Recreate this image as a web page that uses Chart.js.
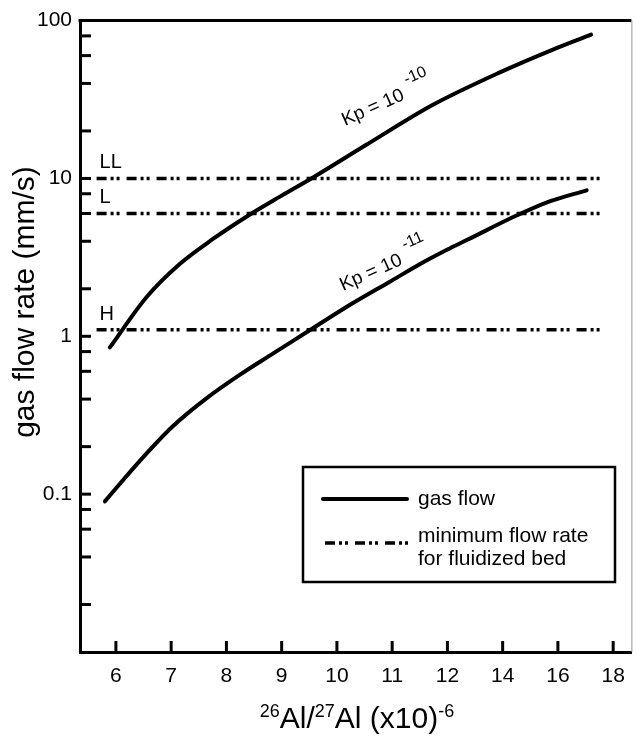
<!DOCTYPE html>
<html>
<head>
<meta charset="utf-8">
<script src="https://cdn.jsdelivr.net/npm/chart.js@4.4.1/dist/chart.umd.min.js"></script>
<style>
  html,body{margin:0;padding:0;background:#fff;}
  #wrap{width:637px;height:741px;}
</style>
</head>
<body>
<div id="wrap"><canvas id="c" width="637" height="741"></canvas></div>
<script>
// ---------- data ----------
const xTickValues = [6, 7, 8, 9, 10, 11, 12, 14, 16, 18];
const yTickValues = [0.01, 0.1, 1, 10, 100];
const yTickLabels = ['', '0.1', '1', '10', '100'];
const yMinorTicks = [0.02, 0.04, 0.06, 0.08, 0.2, 0.4, 0.6, 0.8, 2, 4, 6, 8, 20, 40, 60, 80];

// gas flow, Kp = 10^-10
const kp10X = [5.89, 6.56, 7.16, 7.75, 8.42, 8.97, 9.56, 10.54, 11.73, 13.9, 15.8, 17.2];
const kp10Y = [0.85, 1.78, 2.88, 4.12, 5.89, 7.67, 10.1, 16.4, 29.2, 47, 65.3, 81.5];
// gas flow, Kp = 10^-11
const kp11X = [5.80, 6.43, 7.03, 7.65, 8.24, 8.84, 9.45, 10.1, 10.95, 11.62, 12.0, 12.7, 14.5, 15.7, 17.04];
const kp11Y = [0.090, 0.162, 0.269, 0.407, 0.569, 0.776, 1.06, 1.48, 2.21, 3.02, 3.55, 4.07, 5.82, 7.16, 8.41];

// minimum flow rate for fluidized bed
const minFlowNames = ['LL', 'L', 'H'];
const minFlowValues = [10, 6, 1.1];
const minFlowExtentX = [5.65, 17.7];

const curveLabels = ['Kp = 10', 'Kp = 10'];
const curveExps = ['-10', '-11'];

// ---------- x-axis mapping (1 unit per step up to 12, then 2 units per step) ----------
function toU(x) { return x <= 12 ? x : 12 + (x - 12) / 2; }

const FONT = "'Liberation Sans', Arial, sans-serif";
const dash = [10, 4, 3, 3, 3, 7];

function pts(xs, ys) { return xs.map((x, i) => ({ x: toU(x), y: ys[i] })); }

const datasets = [
  { data: pts(kp10X, kp10Y), borderColor: '#000', borderWidth: 4, pointRadius: 0, cubicInterpolationMode: 'monotone', fill: false, borderCapStyle: 'round' },
  { data: pts(kp11X, kp11Y), borderColor: '#000', borderWidth: 4, pointRadius: 0, cubicInterpolationMode: 'monotone', fill: false, borderCapStyle: 'round' }
];
minFlowValues.forEach(v => {
  datasets.push({ data: pts(minFlowExtentX, [v, v]), borderColor: '#000', borderWidth: 3.5, pointRadius: 0, borderDash: dash, fill: false });
});

const decor = {
  id: 'decor',
  afterDraw(chart) {
    const ctx = chart.ctx, xs = chart.scales.x, ys = chart.scales.y, a = chart.chartArea;
    ctx.save();
    ctx.strokeStyle = '#000'; ctx.fillStyle = '#000';
    // top border and thin right border
    ctx.lineWidth = 3;
    ctx.beginPath(); ctx.moveTo(a.left - 1.5, a.top); ctx.lineTo(a.right, a.top); ctx.stroke();
    ctx.lineWidth = 1; ctx.strokeStyle = '#999';
    ctx.beginPath(); ctx.moveTo(a.right + 0.5, a.top); ctx.lineTo(a.right + 0.5, a.bottom); ctx.stroke();
    ctx.strokeStyle = '#000';
    // inward ticks
    ctx.lineWidth = 3;
    yTickValues.concat(yMinorTicks).forEach(v => {
      const y = ys.getPixelForValue(v);
      if (y <= a.top + 1 || y >= a.bottom - 1) return;
      ctx.beginPath(); ctx.moveTo(a.left, y); ctx.lineTo(a.left + 11, y); ctx.stroke();
    });
    xTickValues.forEach(v => {
      const x = xs.getPixelForValue(toU(v));
      ctx.beginPath(); ctx.moveTo(x, a.bottom); ctx.lineTo(x, a.bottom - 11); ctx.stroke();
    });
    // min-flow labels
    ctx.font = '20px ' + FONT; ctx.textAlign = 'left'; ctx.textBaseline = 'alphabetic';
    const x0 = xs.getPixelForValue(toU(minFlowExtentX[0]));
    minFlowNames.forEach((n, i) => {
      const y = ys.getPixelForValue(minFlowValues[i]);
      ctx.fillText(n, x0 + 3, y - 10);
    });
    // curve labels (rotated)
    const lab = [[345, 126], [343, 291]];
    lab.forEach((p, i) => {
      ctx.save();
      ctx.translate(p[0], p[1]);
      ctx.rotate(-24 * Math.PI / 180);
      ctx.font = '19px ' + FONT;
      ctx.fillText(curveLabels[i], 0, 0);
      const w = ctx.measureText(curveLabels[i]).width;
      ctx.font = '16px ' + FONT;
      ctx.fillText(curveExps[i], w + 7, -13);
      ctx.restore();
    });
    // legend box
    ctx.lineWidth = 2.5;
    ctx.strokeRect(303, 467, 312, 115);
    ctx.lineWidth = 4; ctx.lineCap = 'round';
    ctx.beginPath(); ctx.moveTo(323, 499); ctx.lineTo(407, 499); ctx.stroke();
    ctx.lineCap = 'butt'; ctx.lineWidth = 3.5; ctx.setLineDash(dash);
    ctx.beginPath(); ctx.moveTo(325, 543); ctx.lineTo(411, 543); ctx.stroke();
    ctx.setLineDash([]);
    ctx.font = '21px ' + FONT; ctx.textBaseline = 'middle';
    ctx.fillText('gas flow', 418, 499);
    ctx.fillText('minimum flow rate', 418, 536);
    ctx.fillText('for fluidized bed', 418, 559);
    // y title
    ctx.save();
    ctx.translate(26, 302); ctx.rotate(-Math.PI / 2);
    ctx.font = '30px ' + FONT; ctx.textAlign = 'center'; ctx.textBaseline = 'middle';
    ctx.fillText('gas flow rate (mm/s)', 0, 0);
    ctx.restore();
    // x title with superscripts
    const parts = [['26', true], ['Al/', false], ['27', true], ['Al (x10)', false], ['-6', true]];
    const big = '30px ' + FONT, small = '18px ' + FONT;
    let total = 0;
    parts.forEach(p => { ctx.font = p[1] ? small : big; total += ctx.measureText(p[0]).width; });
    let cx = 357 - total / 2; const base = 728;
    ctx.textAlign = 'left'; ctx.textBaseline = 'alphabetic';
    parts.forEach(p => {
      ctx.font = p[1] ? small : big;
      ctx.fillText(p[0], cx, p[1] ? base - 11 : base);
      cx += ctx.measureText(p[0]).width;
    });
    ctx.restore();
  }
};

new Chart(document.getElementById('c'), {
  type: 'line',
  data: { datasets },
  options: {
    responsive: false, animation: false,
    layout: { padding: { top: 20, right: 5, left: 0, bottom: 0 } },
    plugins: { legend: { display: false }, tooltip: { enabled: false } },
    scales: {
      x: {
        type: 'linear', min: 5.35, max: 15.33,
        grid: { display: false, drawTicks: false },
        border: { display: true, width: 3, color: '#000' },
        afterBuildTicks: s => { s.ticks = xTickValues.map(v => ({ value: toU(v) })); },
        ticks: { color: '#000', font: { family: FONT, size: 21 }, padding: 12, autoSkip: false, maxRotation: 0,
          callback: (v, i) => String(xTickValues[i]) },
        afterFit: s => { s.height = 89; }
      },
      y: {
        type: 'logarithmic', min: 0.01, max: 100,
        grid: { display: false, drawTicks: false },
        border: { display: true, width: 3, color: '#000' },
        afterBuildTicks: s => { s.ticks = yTickValues.map(v => ({ value: v })); },
        ticks: { color: '#000', font: { family: FONT, size: 21 }, padding: 8, autoSkip: false,
          callback: (v, i) => yTickLabels[i] },
        afterFit: s => { s.width = 80; }
      }
    }
  },
  plugins: [decor]
});
</script>
</body>
</html>
